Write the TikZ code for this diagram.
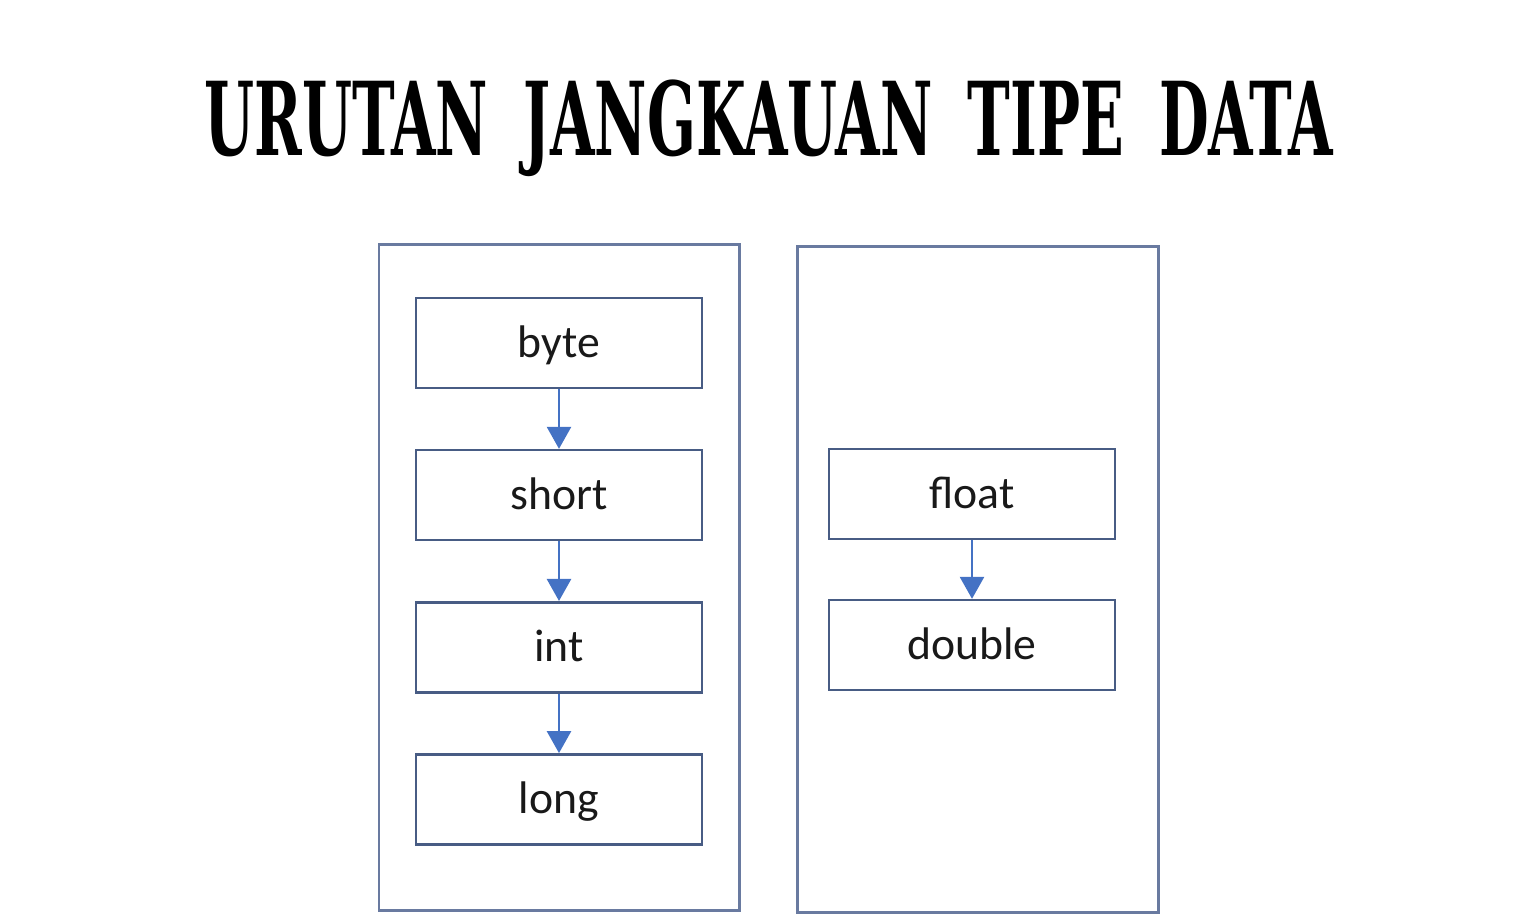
\documentclass[tikz,border=0pt]{standalone}
\usepackage{fontspec}
\setmainfont{Carlito}
\newfontfamily\titlefont{DejaVu Serif Condensed}
\usetikzlibrary{positioning,chains,arrows.meta}
\definecolor{frameblue}{RGB}{105,122,160}
\definecolor{boxblue}{RGB}{72,92,132}
\definecolor{arrowblue}{RGB}{68,114,196}

\begin{document}
\begin{tikzpicture}[
  typebox/.style={draw=boxblue,line width=0.75pt,minimum width=2.86cm,minimum height=0.9cm,
    font=\fontsize{13}{15}\selectfont,text=black!90,text height=10.5pt,text depth=2.5pt},
  frame/.style={draw=frameblue,line width=0.85pt},
  flow/.style={arrowblue,line width=0.75pt,-{Triangle[width=2.4mm,length=2.2mm]}}
]
\useasboundingbox (0,0) rectangle (15.36,-9.17);

% the title
\node[anchor=base,font=\titlefont\bfseries\fontsize{29}{30}\selectfont] (title) at (7.69,-1.55)
  {\scalebox{0.625}[1]{URUTAN\hspace{0.55em}JANGKAUAN\hspace{0.55em}TIPE\hspace{0.55em}DATA}};

% the two frames
\node[frame,minimum width=3.6cm,minimum height=6.66cm] (intframe) at (5.59,-5.77) {};
\node[frame,minimum width=3.61cm,minimum height=6.66cm] (floatframe) at (9.775,-5.79) {};

% the integer types
\begin{scope}[start chain=going below,node distance=5.95mm]
  \node[typebox,on chain] (byte) at (5.59,-3.43) {byte};
  \node[typebox,on chain] (short) {short};
  \node[typebox,on chain] (int) {int};
  \node[typebox,on chain] (long) {long};
\end{scope}

% the floating point types
\begin{scope}[start chain=going below,node distance=5.85mm]
  \node[typebox,on chain] (float) at (9.72,-4.94) {float};
  \node[typebox,on chain] (double) {double};
\end{scope}

% the arrows
\draw[flow] (byte) -- (short);
\draw[flow] (short) -- (int);
\draw[flow] (int) -- (long);
\draw[flow] (float) -- (double);
\end{tikzpicture}
\end{document}
